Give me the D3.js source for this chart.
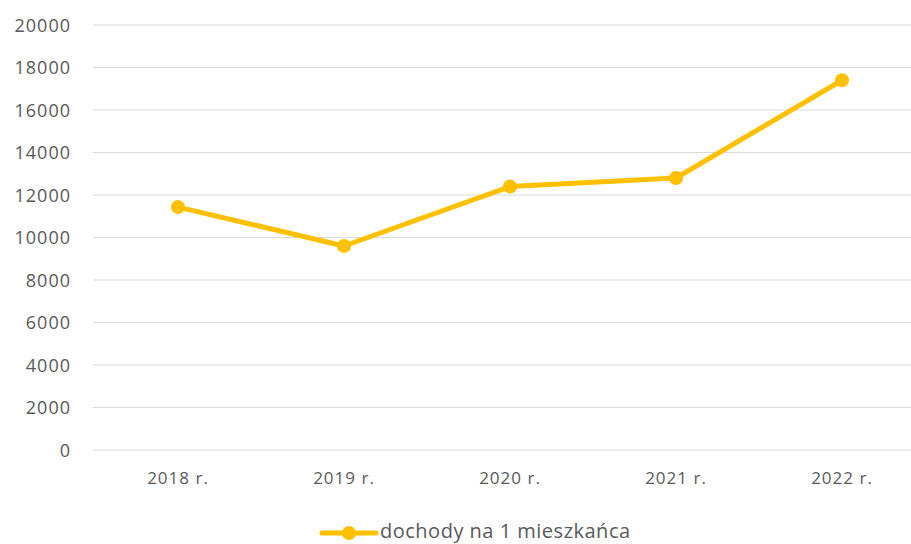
<!DOCTYPE html>
<html><head><meta charset="utf-8">
<script src="https://d3js.org/d3.v7.min.js"></script>
<style>body{margin:0;background:#fff;}svg{display:block;}</style>
</head><body>
<svg id="c" width="911" height="544"></svg>
<script>
const categories = ["2018 r.", "2019 r.", "2020 r.", "2021 r.", "2022 r."];
const values = [11430, 9600, 12400, 12800, 17400];
const yTicks = [0, 2000, 4000, 6000, 8000, 10000, 12000, 14000, 16000, 18000, 20000];
const seriesName = "dochody na 1 mieszkańca";

const svg = d3.select("#c");
const font = "'Open Sans', sans-serif";
const color = "#FFC000";
const textColor = "#595959";

const x = d3.scaleBand().domain(categories).range([95, 925]);
const y = d3.scaleLinear().domain([0, 20000]).range([450, 25]);

// gridlines
svg.append("g").selectAll("line").data(yTicks).join("line")
  .attr("x1", 93).attr("x2", 911)
  .attr("y1", d => y(d)).attr("y2", d => y(d))
  .attr("stroke", "#d9d9d9").attr("stroke-width", 1.2);

// y axis labels
const yAxis = d3.axisLeft(y).tickValues(yTicks).tickSize(0).tickPadding(0).tickFormat(d3.format("d"));
const ya = svg.append("g").attr("transform", "translate(71,0)").call(yAxis);
ya.select(".domain").remove();
ya.selectAll("text").attr("font-family", font).attr("font-size", 18).attr("letter-spacing", 1)
  .attr("fill", textColor).attr("dy", "0.35em");

// x axis labels
const xAxis = d3.axisBottom(x).tickSize(0).tickPadding(0);
const xa = svg.append("g").attr("transform", "translate(0,472)").call(xAxis);
xa.select(".domain").remove();
xa.selectAll("text").attr("font-family", font).attr("font-size", 17).attr("letter-spacing", 1)
  .attr("fill", textColor).attr("dy", "0.71em");

// line
const cx = d => x(d) + x.bandwidth() / 2;
const line = d3.line().x((d, i) => cx(categories[i])).y(d => y(d));
svg.append("path").datum(values).attr("d", line)
  .attr("fill", "none").attr("stroke", color).attr("stroke-width", 5).attr("stroke-linejoin", "round").attr("stroke-linecap", "round");
svg.append("g").selectAll("circle").data(values).join("circle")
  .attr("cx", (d, i) => cx(categories[i])).attr("cy", d => y(d)).attr("r", 7).attr("fill", color);

// legend
const lg = svg.append("g").attr("transform", "translate(0,533)");
lg.append("line").attr("x1", 322).attr("x2", 376).attr("y1", 0).attr("y2", 0).attr("stroke", color).attr("stroke-width", 5).attr("stroke-linecap", "round");
lg.append("circle").attr("cx", 349).attr("cy", 0).attr("r", 7).attr("fill", color);
lg.append("text").attr("x", 380).attr("y", -2).attr("dy", "0.35em").attr("font-family", font).attr("font-size", 20)
  .attr("letter-spacing", 0.5).attr("fill", textColor).text(seriesName);
</script>
</body></html>
